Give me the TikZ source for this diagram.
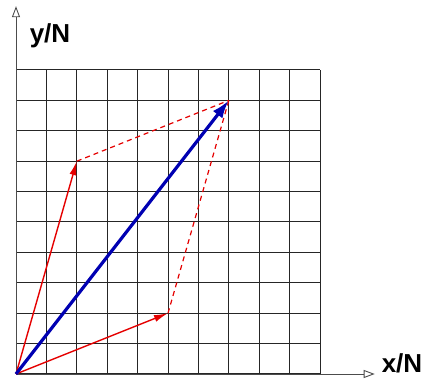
\documentclass[tikz,border=0pt]{standalone}
\usepackage{fontspec}
\setmainfont{Liberation Sans}
\usetikzlibrary{arrows.meta}
\begin{document}
\begin{tikzpicture}[x=1pt,y=1pt,
  gridline/.style={draw=black!85, line width=1pt},
  axisline/.style={draw=black!70, line width=0.9pt, -{Triangle[open,length=11pt,width=8pt]}},
  redvec/.style={draw=red!90!black, line width=1.4pt, -{Latex[length=14pt,width=7pt]}},
  bluevec/.style={draw=blue!70!black, line width=3.2pt, -{Latex[length=18pt,width=12pt]}},
  reddash/.style={draw=red!90!black, line width=1.2pt, dash pattern=on 5pt off 4pt},
  axlabel/.style={font=\fontsize{26}{28}\selectfont\bfseries, inner sep=0pt}]
\useasboundingbox (0,0) rectangle (429,379);
\begin{scope}[shift={(16,5)}, x=30.4pt, y=30.4pt]
  \foreach \i in {0,...,10} {
    \draw[gridline] (\i,0) -- (\i,10);
    \draw[gridline] (0,\i) -- (10,\i);
  }
  \coordinate (O) at (0,0);
  \coordinate (A) at (2,7);
  \coordinate (B) at (5,2);
  \coordinate (C) at (7,9);
  \coordinate (Xend) at (11.8,0);
  \coordinate (Yend) at (0,12.1);
  \draw[axisline] (O) -- (Xend);
  \draw[axisline] (O) -- (Yend);
  \draw[reddash] (A) -- (C);
  \draw[reddash] (B) -- (C);
  \draw[redvec] (O) -- (A);
  \draw[redvec] (O) -- (B);
  \draw[bluevec] (O) -- (C);
\end{scope}
\node[axlabel] (ylab) at (50,343) {y/N};
\node[axlabel] (xlab) at (402,16) {x/N};
\end{tikzpicture}
\end{document}
